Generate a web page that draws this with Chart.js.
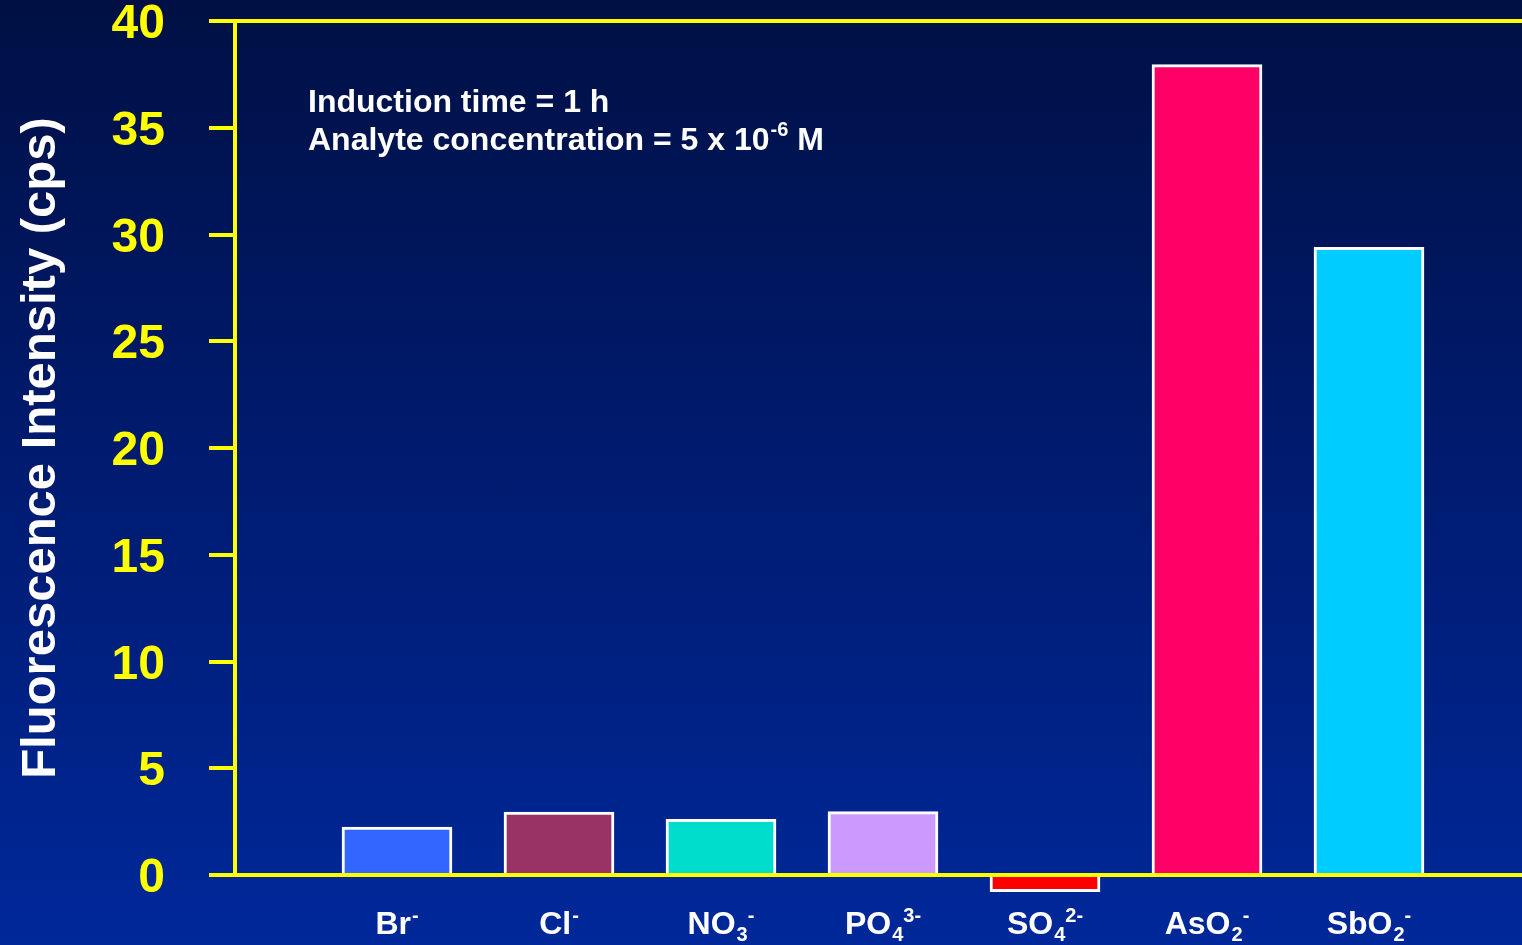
<!DOCTYPE html>
<html>
<head>
<meta charset="utf-8">
<script src="https://cdn.jsdelivr.net/npm/chart.js@4.4.1/dist/chart.umd.min.js"></script>
<style>
  html, body {
    margin: 0;
    padding: 0;
    width: 1522px;
    height: 945px;
    overflow: hidden;
    background: linear-gradient(to bottom, #001044 0%, #001a6c 45%, #00289a 100%);
  }
  canvas { display: block; }
</style>
</head>
<body>
<canvas id="grafica" width="1540" height="945"></canvas>
<script>
// anions tested, drawn as base + subscript + charge
const ions = ['Br', 'Cl', 'NO', 'PO', 'SO', 'AsO', 'SbO'];
const ionSub = ['', '', '3', '4', '4', '2', '2'];
const ionCharge = ['-', '-', '-', '3-', '2-', '-', '-'];
const intensity = [2.24, 2.95, 2.61, 2.97, -0.78, 37.96, 29.4];
const barColors = ['#3366ff', '#993366', '#00ddcc', '#cc99ff', '#ff0000', '#ff0066', '#00ccff'];

const yellow = '#ffff00';
const fam = "'Liberation Sans', Arial, sans-serif";

// empty slot on each side so the bars sit where they should
const labels = ['', ...ions.map((n, i) => n + ionSub[i] + ionCharge[i]), ''];
const values = [null, ...intensity, null];
const colors = ['transparent', ...barColors, 'transparent'];

const extras = {
    id: 'extras',
    afterDatasetsDraw(chart) {
        const {ctx, chartArea, scales: {y}} = chart;
        ctx.save();
        ctx.strokeStyle = yellow;
        ctx.lineWidth = 4;
        [0, 40].forEach(v => {
            const py = y.getPixelForValue(v);
            ctx.beginPath();
            ctx.moveTo(chartArea.left - 26, py);
            ctx.lineTo(chart.width, py);
            ctx.stroke();
        });
        ctx.restore();
    },
    afterDraw(chart) {
        const {ctx, scales: {x}} = chart;
        ctx.save();
        ctx.fillStyle = '#ffffff';
        ctx.textBaseline = 'alphabetic';
        ctx.textAlign = 'left';

        // category labels with sub/superscripts
        const big = 'bold 32px ' + fam;
        const small = 'bold 20px ' + fam;
        const base = 934;
        ions.forEach((name, i) => {
            ctx.font = big;
            const w1 = ctx.measureText(name).width;
            ctx.font = small;
            const w2 = ctx.measureText(ionSub[i]).width;
            const w3 = ctx.measureText(ionCharge[i]).width;
            const total = w1 + w2 + w3 + 1;
            let px = x.getPixelForValue(i + 1) - total / 2;
            ctx.font = big;
            ctx.fillText(name, px, base);
            px += w1 + 1;
            ctx.font = small;
            if (ionSub[i]) {
                ctx.fillText(ionSub[i], px, base + 7);
                px += w2;
            }
            ctx.fillText(ionCharge[i], px, base - 12);
        });

        // experiment conditions
        ctx.font = 'bold 32px ' + fam;
        ctx.fillText('Induction time = 1 h', 308, 112);
        const line2 = 'Analyte concentration = 5 x 10';
        ctx.fillText(line2, 308, 150);
        let px = 308 + ctx.measureText(line2).width;
        ctx.font = 'bold 20px ' + fam;
        ctx.fillText('-6', px + 1, 136);
        px += ctx.measureText('-6').width + 1;
        ctx.font = 'bold 32px ' + fam;
        ctx.fillText(' M', px, 150);
        ctx.restore();
    }
};

const ctx = document.getElementById('grafica').getContext('2d');
const myChart = new Chart(ctx, {
    type: 'bar',
    data: {
        labels: labels,
        datasets: [{
            data: values,
            backgroundColor: colors,
            borderColor: '#ffffff',
            borderWidth: 3,
            borderSkipped: 'start',
            barThickness: 110,
            clip: false
        }]
    },
    options: {
        responsive: false,
        animation: false,
        layout: {
            padding: { top: 21, bottom: 70, left: 0, right: 9 }
        },
        scales: {
            x: {
                display: false,
                offset: false
            },
            y: {
                min: 0,
                max: 40,
                afterFit(s) {
                    s.width = 235;
                    s.paddingTop = 0;
                    s.paddingBottom = 0;
                },
                ticks: {
                    stepSize: 5,
                    color: yellow,
                    padding: 44,
                    labelOffset: 4,
                    font: { family: fam, size: 48, weight: 'bold' }
                },
                grid: {
                    drawOnChartArea: false,
                    tickLength: 26,
                    tickColor: yellow,
                    lineWidth: 4
                },
                border: {
                    color: yellow,
                    width: 4
                },
                title: {
                    display: true,
                    text: 'Fluorescence Intensity (cps)',
                    color: '#ffffff',
                    padding: { top: 17 },
                    font: { family: fam, size: 49, weight: 'bold', lineHeight: 1 }
                }
            }
        },
        plugins: {
            legend: { display: false },
            tooltip: { enabled: false }
        }
    },
    plugins: [extras]
});
</script>
</body>
</html>
